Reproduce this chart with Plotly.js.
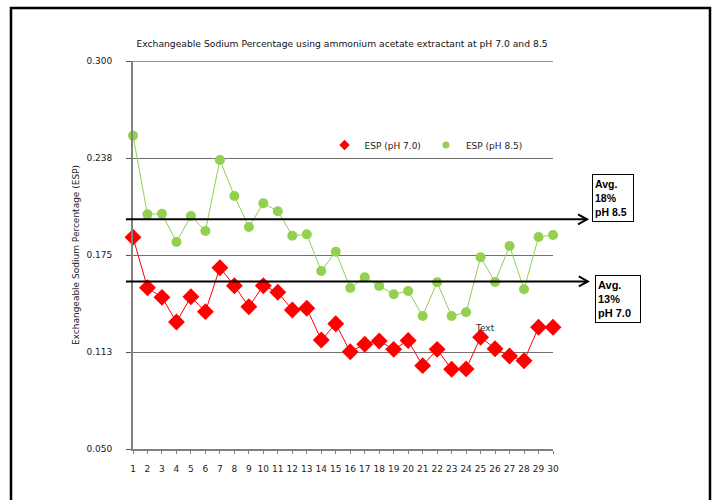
<!DOCTYPE html>
<html>
<head>
<meta charset="utf-8">
<script src="https://cdn.plot.ly/plotly-3.0.1.min.js"></script>
<style>html,body{margin:0;padding:0;background:#fff;}#chart{width:715px;height:500px;}</style>
</head>
<body>
<div id="chart"></div>
<script>
const samples = [1,2,3,4,5,6,7,8,9,10,11,12,13,14,15,16,17,18,19,20,21,22,23,24,25,26,27,28,29,30];
const espPH70 = [0.1864,0.1539,0.1477,0.1318,0.1481,0.1385,0.1668,0.1552,0.1417,0.1552,
                 0.1510,0.1396,0.1407,0.1202,0.1307,0.1127,0.1175,0.1196,0.1142,0.1199,
                 0.1037,0.1142,0.1014,0.1016,0.1220,0.1146,0.1099,0.1069,0.1284,0.1284];
const espPH85 = [0.2519,0.2012,0.2016,0.1834,0.2001,0.1905,0.2362,0.2130,0.1930,0.2083,
                 0.2032,0.1874,0.1883,0.1647,0.1771,0.1537,0.1606,0.1550,0.1497,0.1518,
                 0.1357,0.1574,0.1357,0.1381,0.1735,0.1576,0.1808,0.1529,0.1866,0.1879];
const yTickVals = [0.05, 0.1125, 0.175, 0.2375, 0.3];
const yTickText = ["0.050","0.113","0.175","0.238","0.300"];
const avgLine85 = 0.198;
const avgLine70 = 0.158;
const avgBox85 = "Avg.<br>18%<br>pH 8.5";
const avgBox70 = "Avg.<br>13%<br>pH 7.0";
const seriesNames = ["ESP (pH 7.0)", "ESP (pH 8.5)"];
const red = "#ff0000", green = "#92d050";
const font = "DejaVu Sans, Verdana, sans-serif";

const traces = [
  {x: samples, y: espPH70, mode: "lines+markers", name: seriesNames[0], legendgroup: "a", showlegend: false,
   line: {color: red, width: 1}, marker: {symbol: "diamond", size: 13, color: red}, cliponaxis: false},
  {x: samples, y: espPH85, mode: "lines+markers", name: seriesNames[1], legendgroup: "b", showlegend: false,
   line: {color: green, width: 1}, marker: {symbol: "circle", size: 10, color: green}, cliponaxis: false},
  // legend entries (no points of their own)
  {x: [null], y: [null], mode: "markers", name: seriesNames[0], legendgroup: "a", marker: {symbol: "diamond", size: 8, color: red}},
  {x: [null], y: [null], mode: "markers", name: seriesNames[1], legendgroup: "b", marker: {symbol: "circle", size: 7, color: green}}
];

function arrowShapes(yv, x0, x1) {
  return [
    {type: "line", xref: "paper", yref: "y", x0: x0, x1: x1, y0: yv, y1: yv, line: {color: "#000", width: 2}},
    {type: "path", xref: "paper", yref: "y", xsizemode: "pixel", ysizemode: "pixel", xanchor: x1, yanchor: yv,
     path: "M-9,-5 L0,0 L-9,5", line: {color: "#000", width: 2}}
  ];
}

const layout = {
  width: 715, height: 500,
  margin: {l: 133, r: 162, t: 61, b: 51},
  paper_bgcolor: "#fff", plot_bgcolor: "#fff",
  font: {family: font, size: 9, color: "#222"},
  title: {text: "Exchangeable Sodium Percentage using ammonium acetate extractant at pH 7.0 and 8.5",
          font: {family: font, size: 9.2, color: "#111"}, x: 0.4976, xanchor: "center", y: 0.912, yanchor: "middle", xref: "paper"},
  xaxis: {range: [1, 30], tickmode: "linear", tick0: 1, dtick: 1, showgrid: false, zeroline: false,
          showline: true, linecolor: "#808080", linewidth: 1.5, ticks: "outside", ticklen: 3, tickcolor: "#808080",
          tickfont: {family: font, size: 9, color: "#222"}, ticklabelstandoff: 8, fixedrange: true},
  yaxis: {range: [0.05, 0.3], tickmode: "array", tickvals: yTickVals, ticktext: yTickText,
          showgrid: true, gridcolor: "#707070", gridwidth: 1, zeroline: false,
          showline: true, linecolor: "#808080", linewidth: 2, ticks: "outside", ticklen: 5, tickcolor: "#555",
          tickfont: {family: font, size: 9, color: "#222"}, ticklabelstandoff: 12,
          title: {text: "Exchangeable Sodium Percentage (ESP)", font: {family: font, size: 9, color: "#222"}, standoff: 5},
          fixedrange: true},
  showlegend: true,
  legend: {orientation: "h", x: 0.456, y: 0.7835, xanchor: "left", yanchor: "middle", bgcolor: "rgba(0,0,0,0)",
           font: {family: font, size: 9, color: "#222"}, itemwidth: 30},
  shapes: [].concat(
    arrowShapes(avgLine85, -0.0167, 1.081),
    arrowShapes(avgLine70, -0.0167, 1.083),
    [{type: "line", xref: "paper", yref: "y", x0: 0, x1: 1, y0: 0.3, y1: 0.3, line: {color: "#333", width: 1.2}},
     {type: "rect", xref: "paper", yref: "paper", x0: -0.2905, x1: 1.3738, y0: -0.2, y1: 1.1365, line: {color: "#000", width: 2.5}}]
  ),
  annotations: [
    {xref: "paper", yref: "paper", x: 1.0929, y: 0.7088, xanchor: "left", yanchor: "top", text: avgBox85, showarrow: false,
     align: "left", font: {family: "Liberation Sans, Arial, sans-serif", size: 10.5, color: "#000", weight: "bold"},
     bordercolor: "#000", borderwidth: 1, borderpad: 2, width: 36, height: 42},
    {xref: "paper", yref: "paper", x: 1.0990, y: 0.4476, xanchor: "left", yanchor: "top", text: avgBox70, showarrow: false,
     align: "left", font: {family: "Liberation Sans, Arial, sans-serif", size: 11, color: "#000", weight: "bold"},
     bordercolor: "#000", borderwidth: 1, borderpad: 2, width: 40, height: 42},
    {xref: "x", yref: "y", x: 25.29, y: 0.1278, text: "Text", showarrow: false, font: {family: font, size: 9, color: "#333"}}
  ]
};

Plotly.newPlot("chart", traces, layout, {displayModeBar: false, staticPlot: true});
</script>
</body>
</html>
